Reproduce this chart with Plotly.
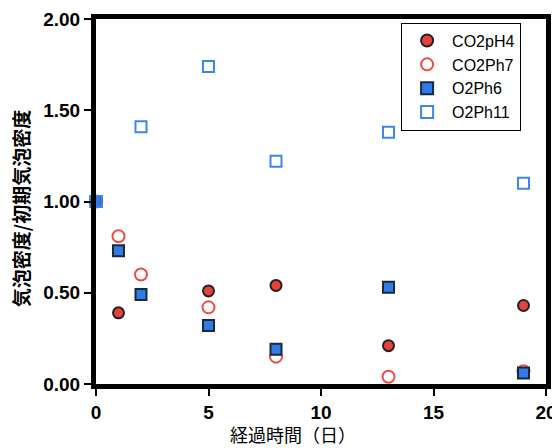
import plotly.graph_objects as go

co2ph4_x = [0, 1, 5, 8, 13, 19]
co2ph4_y = [1.00, 0.39, 0.51, 0.54, 0.21, 0.43]
co2ph7_x = [0, 1, 2, 5, 8, 13, 19]
co2ph7_y = [1.00, 0.81, 0.60, 0.42, 0.15, 0.04, 0.07]
o2ph6_x = [0, 1, 2, 5, 8, 13, 19]
o2ph6_y = [1.00, 0.73, 0.49, 0.32, 0.19, 0.53, 0.06]
o2ph11_x = [0, 2, 5, 8, 13, 19]
o2ph11_y = [1.00, 1.41, 1.74, 1.22, 1.38, 1.10]

x_ticks = [0, 5, 10, 15, 20]
y_ticks = [0, 0.5, 1.0, 1.5, 2.0]

x_title = "経過時間（日）"
y_title = "気泡密度/初期気泡密度"

fig = go.Figure()
fig.add_trace(go.Scatter(x=co2ph4_x, y=co2ph4_y, mode="markers", name="CO2pH4",
                         marker=dict(symbol="circle", size=11, color="#e8413a",
                                     line=dict(color="#222222", width=2)), cliponaxis=False))
fig.add_trace(go.Scatter(x=co2ph7_x, y=co2ph7_y, mode="markers", name="CO2Ph7",
                         marker=dict(symbol="circle-open", size=12, color="#f04a45",
                                     line=dict(width=2)), cliponaxis=False))
fig.add_trace(go.Scatter(x=o2ph6_x, y=o2ph6_y, mode="markers", name="O2Ph6",
                         marker=dict(symbol="square", size=11, color="#2f7be8",
                                     line=dict(color="#1a2a3a", width=2)), cliponaxis=False))
fig.add_trace(go.Scatter(x=o2ph11_x, y=o2ph11_y, mode="markers", name="O2Ph11",
                         marker=dict(symbol="square-open", size=11, color="#3d85f0",
                                     line=dict(width=2)), cliponaxis=False))

tickfont = dict(size=19, family="Liberation Sans, Arial, sans-serif", weight="bold", color="black")

fig.update_layout(
    width=560, height=448,
    margin=dict(l=88, r=22, t=11, b=72, autoexpand=False),
    paper_bgcolor="white", plot_bgcolor="white",
    font=dict(family="Liberation Sans, Noto Sans CJK JP, sans-serif", color="black"),
    showlegend=True,
    legend=dict(x=0.678, y=0.99, xanchor="left", yanchor="top",
                bordercolor="black", borderwidth=1, bgcolor="white",
                font=dict(size=16, family="Liberation Sans, Arial, sans-serif"),
                itemsizing="constant", tracegroupgap=0, itemwidth=40,
                entrywidth=104, entrywidthmode="pixels"),
    xaxis=dict(range=[0, 20], tickvals=x_ticks, ticktext=[str(v) for v in x_ticks],
               showgrid=False, zeroline=False, showline=True, linecolor="black",
               linewidth=5, mirror=True, ticks="outside", ticklen=7, tickwidth=2,
               tickcolor="black", automargin=False, tickfont=tickfont),
    yaxis=dict(range=[0, 2.0], tickvals=y_ticks, ticktext=["%.2f" % v for v in y_ticks],
               showgrid=False, zeroline=False, showline=True, linecolor="black",
               linewidth=5, mirror=True, ticks="outside", ticklen=7, tickwidth=2,
               tickcolor="black", automargin=False, tickfont=tickfont),
    annotations=[
        dict(text=x_title, xref="paper", yref="paper", x=0.438, y=-0.137,
             xanchor="center", yanchor="middle", showarrow=False,
             font=dict(size=18, family="Noto Sans CJK JP", color="black")),
        dict(text=y_title, xref="paper", yref="paper", x=-0.168, y=0.48,
             xanchor="center", yanchor="middle", showarrow=False, textangle=-90,
             font=dict(size=19, family="Noto Sans CJK JP", weight="bold", color="black")),
    ],
)

fig.write_html("out.html")
